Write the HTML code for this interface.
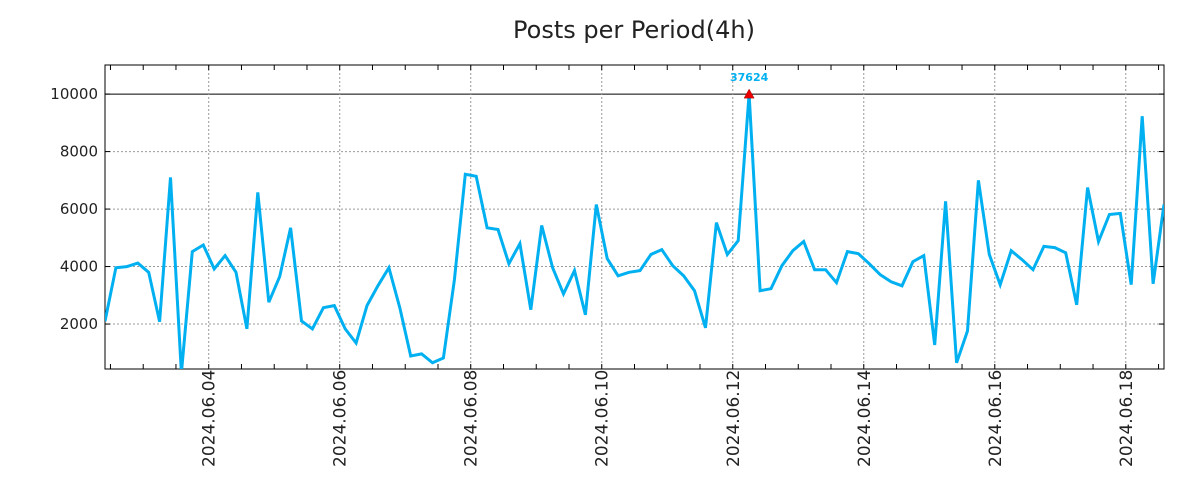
<!DOCTYPE html>
<html><head><meta charset="utf-8"><style>
html,body{margin:0;padding:0;background:#fff;}
svg{display:block;font-family:"DejaVu Sans","Liberation Sans",sans-serif;}
</style></head><body>
<svg id="chart" width="1200" height="500" viewBox="0 0 1200 500" xmlns="http://www.w3.org/2000/svg">
<rect width="1200" height="500" fill="#fff"/>
<text x="634" y="38" text-anchor="middle" font-size="24" fill="#222">Posts per Period(4h)</text>
<g id="grid"></g><g id="axes"></g><g id="series"></g>
</svg>
<script>
const values=[2100,3960,4000,4120,3800,2080,7100,300,4520,4750,3920,4380,3800,1830,6580,2760,3650,5350,2110,1830,2570,2640,1830,1340,2640,3330,3960,2570,890,960,650,820,3540,7210,7140,5350,5290,4100,4800,2500,5430,3960,3050,3860,2320,6160,4280,3680,3800,3860,4420,4590,4030,3680,3160,1870,5530,4420,4900,37624,3160,3230,4030,4550,4870,3890,3890,3440,4520,4450,4100,3720,3470,3330,4170,4380,1270,6270,650,1760,7000,4420,3370,4550,4240,3890,4700,4660,4480,2670,6750,4870,5810,5850,3370,9230,3400,6160];
const startHour=10, stepHours=4;
const yTicks=[2000,4000,6000,8000,10000];
const dateLabels=["2024.06.04","2024.06.06","2024.06.08","2024.06.10","2024.06.12","2024.06.14","2024.06.16","2024.06.18"];
const dateHours=[48,96,144,192,240,288,336,384];
const clipValue=10000;

const L=105,R=1164,T=65,B=369;
const yMin=436,yMax=11012;
const hMin=10,hMax=398;
const NS="http://www.w3.org/2000/svg";
function X(h){return L+(h-hMin)/(hMax-hMin)*(R-L);}
function Y(v){return B-(v-yMin)/(yMax-yMin)*(B-T);}
function mk(tag,attrs,parent){const e=document.createElementNS(NS,tag);for(const k in attrs)e.setAttribute(k,attrs[k]);parent.appendChild(e);return e;}
const grid=document.getElementById('grid'),axes=document.getElementById('axes'),series=document.getElementById('series');

yTicks.forEach(v=>{
  const y=Y(v);
  const g=mk('line',{x1:L,x2:R,y1:y,y2:y,stroke:v===clipValue?'#000':'#999','stroke-width':1,'stroke-dasharray':v===clipValue?'none':'2,2'},grid);
  
  
  mk('line',{x1:L,x2:L+5,y1:y,y2:y,stroke:'#000'},axes);
  mk('line',{x1:R-5,x2:R,y1:y,y2:y,stroke:'#000'},axes);
  const t=mk('text',{x:98,y:y+5,'text-anchor':'end','font-size':15,fill:'#222'},axes);
  t.textContent=v;
  
  
});
dateHours.forEach((h,i)=>{
  const x=X(h);
  const g=mk('line',{x1:x,x2:x,y1:T,y2:B,stroke:'#999','stroke-width':1,'stroke-dasharray':'2,2'},grid);
  
  
  const t=mk('text',{x:0,y:0,'font-size':17,fill:'#222',transform:`translate(${x+6},467) rotate(-90)`},axes);
  t.textContent=dateLabels[i];
  
  
});
for(let h=12;h<hMax;h+=12){
  const x=X(h);
  mk('line',{x1:x,x2:x,y1:B,y2:B-5,stroke:'#000'},axes);
  mk('line',{x1:x,x2:x,y1:T,y2:T+5,stroke:'#000'},axes);
}
const frame=mk('rect',{x:L,y:T,width:R-L,height:B-T,fill:'none',stroke:'#000','stroke-width':1},axes);



mk('clipPath',{id:'pc'},series);
mk('rect',{x:L,y:T,width:R-L,height:B-T},document.getElementById('pc'));
const pts=values.map((v,i)=>X(startHour+i*stepHours).toFixed(1)+','+Y(Math.min(v,clipValue)).toFixed(1)).join(' ');
const line=mk('polyline',{points:pts,fill:'none',stroke:'#00B0F0','stroke-width':3,'stroke-linejoin':'miter','clip-path':'url(#pc)'},series);



let mi=0;values.forEach((v,i)=>{if(v>values[mi])mi=i;});
const px=X(startHour+mi*stepHours),py=Y(Math.min(values[mi],clipValue));
const tri=mk('polygon',{points:`${px-5},${py+4} ${px+5},${py+4} ${px},${py-5}`,fill:'#e00',stroke:'#900','stroke-width':0.5},series);


const pl=mk('text',{x:px,y:py-13,'text-anchor':'middle','font-size':11,'font-weight':'bold',fill:'#00B0F0'},series);
pl.textContent=values[mi];


</script>
</body></html>
